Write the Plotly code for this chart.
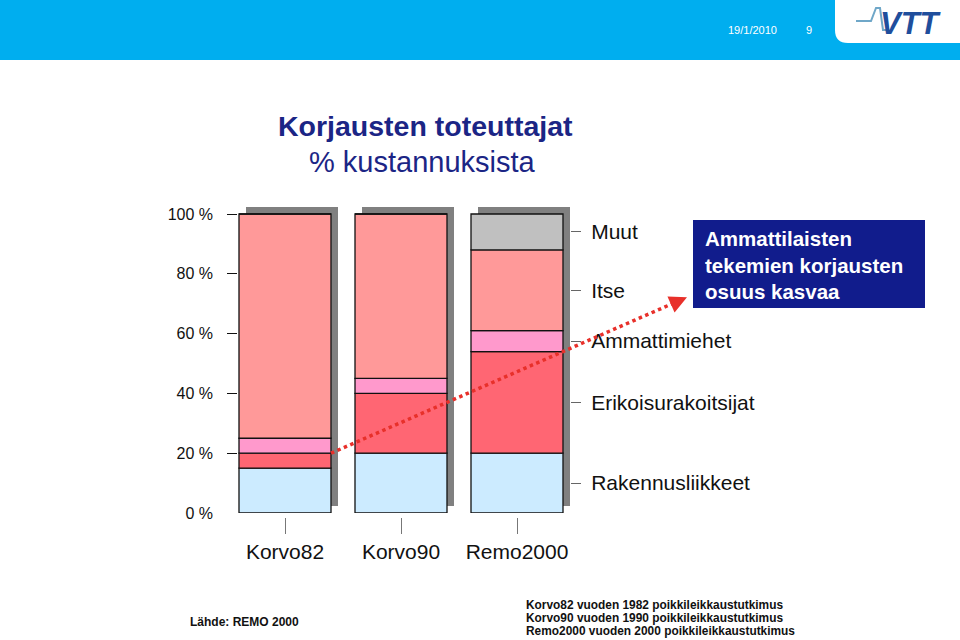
import plotly.graph_objects as go

# ---------------- data ----------------
categories = ["Korvo82", "Korvo90", "Remo2000"]
series_names = ["Rakennusliikkeet", "Erikoisurakoitsijat", "Ammattimiehet", "Itse", "Muut"]
rakennusliikkeet = [15, 20, 20]
erikoisurakoitsijat = [5, 20, 34]
ammattimiehet = [5, 5, 7]
itse = [75, 55, 27]
muut = [0, 0, 12]
y_tick_vals = [0, 20, 40, 60, 80, 100]
y_tick_text = ["0 %", "20 %", "40 %", "60 %", "80 %", "100 %"]
source_notes = ["Korvo82 vuoden 1982 poikkileikkaustutkimus",
                "Korvo90 vuoden 1990 poikkileikkaustutkimus",
                "Remo2000 vuoden 2000 poikkileikkaustutkimus"]
series_values = [rakennusliikkeet, erikoisurakoitsijat, ammattimiehet, itse, muut]
series_colors = ["#CCEBFF", "#FF6673", "#FF99CC", "#FF9999", "#C0C0C0"]

W, H = 960, 640
def px(x):
    return x / W
def py(y):
    return 1 - y / H

# axis geometry (pixels)
X_LEFT, X_RIGHT = 237, 570
Y_ZERO, PX_PER_UNIT = 513, 2.99
Y_MAX = 104
UNIT_PX = 116.0
CENTER0 = 285
xr = [(X_LEFT - CENTER0) / UNIT_PX, (X_RIGHT - CENTER0) / UNIT_PX]
y_top_px = Y_ZERO - Y_MAX * PX_PER_UNIT
ydom = [py(Y_ZERO), py(y_top_px)]
BAR_W = 92 / UNIT_PX
SH_DX = 7 / UNIT_PX
SH_DY = 7 / PX_PER_UNIT

xs = list(range(len(categories)))
totals = [sum(v[i] for v in series_values) for i in xs]

fig = go.Figure()

# shadows
fig.add_trace(go.Bar(x=xs, y=totals, base=[SH_DY] * len(xs), width=BAR_W,
                     offset=-BAR_W / 2 + SH_DX, marker=dict(color="#808080", line=dict(width=0)),
                     showlegend=False, hoverinfo="skip"))

# stacked segments with explicit bases
cum = [0] * len(xs)
for name, vals, col in zip(series_names, series_values, series_colors):
    fig.add_trace(go.Bar(x=xs, y=vals, base=list(cum), width=BAR_W, offset=-BAR_W / 2,
                         name=name, marker=dict(color=col, line=dict(color="#111111", width=1.3)),
                         showlegend=False))
    cum = [c + v for c, v in zip(cum, vals)]

# right-side labels at midpoints of last bar's segments
last = len(xs) - 1
mids, labs = [], []
acc = 0
for name, vals in zip(series_names, series_values):
    mids.append(acc + vals[last] / 2)
    labs.append(name)
    acc += vals[last]

fig.update_layout(
    width=W, height=H, margin=dict(l=0, r=0, t=0, b=0, pad=0, autoexpand=False),
    paper_bgcolor="white", plot_bgcolor="rgba(0,0,0,0)",
    barmode="overlay", showlegend=False,
    font=dict(family="Liberation Sans, Arial, sans-serif", color="#111111"),
    xaxis=dict(domain=[px(X_LEFT), px(X_RIGHT)], range=xr, anchor="free", position=py(517),
               tickvals=xs, ticktext=categories, ticks="outside", ticklen=16, tickcolor="#777777",
               tickwidth=1, showline=False, showgrid=False, zeroline=False, automargin=False,
               tickfont=dict(size=21, color="#111111")),
    yaxis=dict(domain=ydom, range=[0, Y_MAX], anchor="free", position=px(X_LEFT),
               tickvals=y_tick_vals, ticktext=y_tick_text, ticks="", showline=False,
               showgrid=False, zeroline=False, ticklabelstandoff=24, automargin=False,
               tickfont=dict(size=16, color="#111111")),
    yaxis3=dict(domain=ydom, range=[0, Y_MAX], overlaying="y", anchor="free", position=px(X_LEFT),
                side="left", tickvals=y_tick_vals[1:], ticks="outside", ticklen=10,
                tickcolor="#111111", tickwidth=1.3, showticklabels=False, showline=False,
                showgrid=False, zeroline=False, automargin=False),
    yaxis2=dict(domain=ydom, range=[0, Y_MAX], overlaying="y", anchor="x", side="right",
                tickvals=mids, ticktext=labs, ticks="outside", ticklen=10, tickcolor="#666666",
                tickwidth=1, showline=False, showgrid=False, zeroline=False, automargin=False,
                ticklabelstandoff=6, tickfont=dict(size=21, color="#111111")),
)
# dummy traces to activate yaxis2 / yaxis3
fig.add_trace(go.Scatter(x=[xr[0]], y=[0], yaxis="y2", mode="markers", marker=dict(opacity=0),
                         showlegend=False, hoverinfo="skip"))
fig.add_trace(go.Scatter(x=[xr[0]], y=[0], yaxis="y3", mode="markers", marker=dict(opacity=0),
                         showlegend=False, hoverinfo="skip"))

shapes = []
# header band
shapes.append(dict(type="rect", xref="paper", yref="paper", x0=0, x1=1, y0=py(60), y1=1,
                   fillcolor="#00AEEF", line=dict(width=0), layer="below"))
# logo white box with rounded bottom-left
shapes.append(dict(type="path", xref="paper", yref="paper",
                   path=f"M {px(835)},{py(0)} L {px(835)},{py(30)} Q {px(835)},{py(43)} {px(848)},{py(43)} "
                        f"L {px(960)},{py(43)} L {px(960)},{py(0)} Z",
                   fillcolor="white", line=dict(width=0)))
# logo pulse
shapes.append(dict(type="path", xref="paper", yref="paper",
                   path=f"M {px(856)},{py(21)} L {px(871)},{py(21)} L {px(876)},{py(8)} "
                        f"L {px(880)},{py(8)} L {px(883)},{py(30)} L {px(888)},{py(30)}",
                   line=dict(color="#6FA7C8", width=2)))
# text box
shapes.append(dict(type="rect", xref="paper", yref="paper", x0=px(693), x1=px(925), y0=py(308), y1=py(220),
                   fillcolor="#111C8C", line=dict(width=0)))

# dotted red trend line from the first bar's right edge at top of Erikoisurakoitsijat
start_x_px = CENTER0 + (0 + BAR_W / 2) * UNIT_PX
start_y_px = Y_ZERO - (rakennusliikkeet[0] + erikoisurakoitsijat[0]) * PX_PER_UNIT
end_x_px, end_y_px = 683, 299
shapes.append(dict(type="line", xref="paper", yref="paper", x0=px(start_x_px), y0=py(start_y_px),
                   x1=px(end_x_px), y1=py(end_y_px), line=dict(color="#E8302A", width=3.5, dash="dot")))
fig.update_layout(shapes=shapes)

def A(x, y, text, size, color="#111111", xa="center", ya="middle", align="center", **kw):
    d = dict(x=px(x), y=py(y), xref="paper", yref="paper", showarrow=False, text=text,
             xanchor=xa, yanchor=ya, align=align, font=dict(size=size, color=color))
    d.update(kw)
    return d

ann = []
ann.append(dict(x=px(end_x_px + 4), y=py(end_y_px - 1.7), xref="paper", yref="paper",
                ax=-9, ay=4, showarrow=True, arrowhead=2, arrowsize=1, arrowwidth=3.5,
                arrowcolor="#E8302A", text=""))
ann.append(A(425, 126, "<b>Korjausten toteuttajat</b>", 28.5, "#1B2585"))
ann.append(A(422, 162, "% kustannuksista", 29, "#1B2585"))
ann.append(A(703, 265, "<b>Ammattilaisten<br>tekemien korjausten<br>osuus kasvaa</b>", 20.5, "white",
             xa="left", align="left"))
ann.append(A(188, 622, "<b>Lähde: REMO 2000</b>", 12, xa="left", align="left"))
for i, line in enumerate(source_notes):
    ann.append(A(524, 605 + 13 * i, f"<b>{line}</b>", 11.9, xa="left", align="left"))
ann.append(A(752, 30, "19/1/2010", 11, "white"))
ann.append(A(809, 30, "9", 11, "white"))
ann.append(A(911, 24, "<b><i>VTT</i></b>", 31, "#1F4E9C"))
fig.update_layout(annotations=ann)

fig.write_html("out.html")
